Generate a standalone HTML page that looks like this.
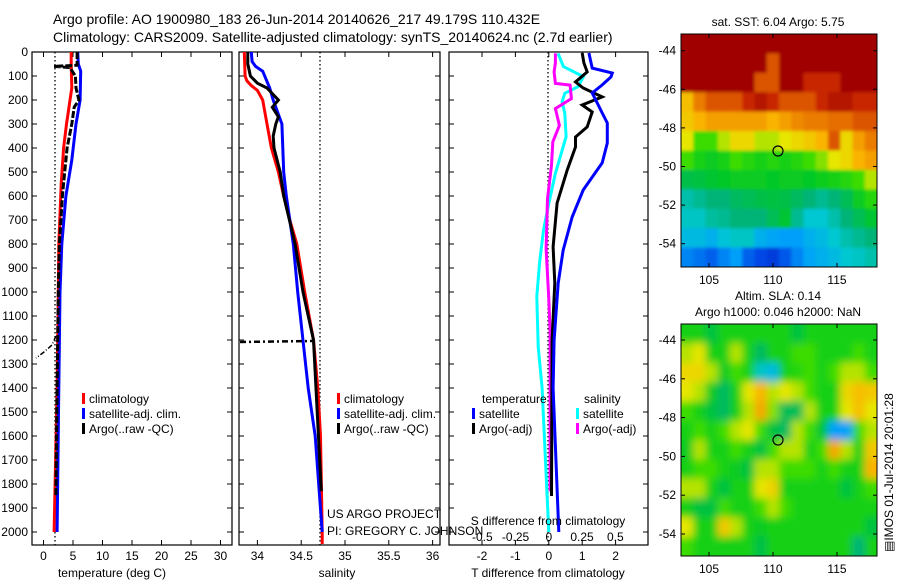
<!DOCTYPE html>
<html><head><meta charset="utf-8"><style>
html,body{margin:0;padding:0;background:#fff;}
svg{display:block;font-family:"Liberation Sans",sans-serif;}
</style></head><body>
<svg id="fig" width="900" height="580" viewBox="0 0 900 580">
<defs>
<filter id="blurS" x="-5%" y="-5%" width="110%" height="110%"><feGaussianBlur stdDeviation="1.5"/></filter>
<filter id="blurL" x="-5%" y="-5%" width="110%" height="110%"><feGaussianBlur stdDeviation="4"/></filter>
<clipPath id="clipS"><rect x="681" y="34" width="196" height="233"/></clipPath>
<clipPath id="clipL"><rect x="681" y="324" width="196" height="232"/></clipPath>
</defs>
<text x="53" y="24" font-size="14">Argo profile: AO 1900980_183 26-Jun-2014 20140626_217 49.179S 110.432E</text>
<text x="53" y="42" font-size="14">Climatology: CARS2009. Satellite-adjusted climatology: synTS_20140624.nc (2.7d earlier)</text>
</svg>
<script>
// ---- data ----
const tDepth=[0,50,100,150,200,250,300,400,550,800,1000,1400,2000];
const tClim=[4.7,4.7,4.75,4.8,4.5,4.2,3.9,3.4,3.0,2.6,2.5,2.3,1.8];
const tSatDepth=[0,50,80,200,300,450,600,800,1000,1500,2000];
const tSat=[5.8,5.9,6.3,6.2,5.5,4.8,3.8,3.1,2.8,2.55,2.3];
const tArgoDepth=[0,55,60,65,100,150,200,230,300,400,500,600,800,1000,1200,1400,1850];
const tArgo=[5.7,5.7,1.8,4.5,5.4,5.5,6.0,5.2,4.8,4.0,3.6,3.2,2.7,2.5,2.4,2.3,2.1];
const sDepth=[0,100,120,140,160,200,300,400,500,600,700,800,1000,1200,1400,1600,2000,2050];
const sClim=[33.85,33.86,33.88,33.93,34.0,34.06,34.11,34.16,34.24,34.3,34.37,34.45,34.54,34.64,34.69,34.72,34.74,34.74];
const sSatDepth=[0,40,60,80,150,200,300,400,500,600,800,1000,1400,1600,2000];
const sSat=[33.93,33.94,33.98,34.06,34.14,34.18,34.28,34.29,34.3,34.33,34.41,34.46,34.58,34.66,34.74];
const sArgoDepth=[0,50,100,130,150,200,230,270,300,350,400,500,600,800,1000,1200,1830];
const sArgo=[33.89,33.89,33.92,34.0,34.11,34.24,34.17,34.24,34.21,34.18,34.19,34.26,34.3,34.43,34.52,34.64,34.73];
const dTSatDepth=[4,67,88,104,137,171,212,254,296,379,462,575,687,825,963,1200,1400,2000];
const dTSat=[1.2,1.3,1.9,1.86,1.6,1.3,1.45,1.6,1.75,1.75,1.6,1.03,0.7,0.43,0.28,0.16,0.13,0.3];
const dTArgoDepth=[4,46,83,125,150,187,221,250,312,354,396,492,629,812,963,1200,1850];
const dTArgo=[1.0,1.05,1.15,0.8,1.03,1.6,1.0,1.3,1.15,0.8,0.8,0.55,0.25,0.13,0.18,0.1,0.08];
const dSSatDepth=[6,61,103,144,172,207,256,353,506,631,742,881,1019,1228,1400,2000];
const dSSat=[0.07,0.11,0.26,0.22,0.12,0.1,0.12,0.13,0.05,0,-0.04,-0.07,-0.09,-0.08,-0.05,0];
const dSArgoDepth=[6,46,83,131,138,194,236,306,375,472,611,819,1028,1167,1830];
const dSArgo=[0.05,0.05,0.04,0.05,0.16,0.17,0.05,0.08,0.03,0.02,-0.01,-0.02,0,0.01,0.01];
const sstGrid=[
[1,1,1,1,1,1,1,1,1,1,1,1,1,1,1,1],
[1,1,1,1,1,1,1,0.85,1,1,1,1,1,1,1,1],
[1,1,1,1,1,1,0.85,0.85,1,1,0.9,0.9,0.9,1,1,1],
[0.7,0.8,0.85,0.85,0.85,0.9,0.95,0.9,0.85,0.85,0.85,0.9,0.95,0.95,0.9,0.9],
[0.68,0.72,0.75,0.75,0.75,0.75,0.75,0.72,0.75,0.78,0.8,0.8,0.82,0.82,0.85,0.85],
[0.62,0.55,0.55,0.6,0.65,0.65,0.6,0.6,0.62,0.65,0.68,0.72,0.85,0.65,0.75,0.8],
[0.55,0.5,0.48,0.5,0.55,0.52,0.5,0.52,0.5,0.52,0.55,0.58,0.62,0.65,0.72,0.75],
[0.44,0.45,0.46,0.47,0.48,0.48,0.48,0.47,0.48,0.48,0.47,0.49,0.5,0.52,0.55,0.6],
[0.36,0.38,0.4,0.4,0.42,0.43,0.44,0.45,0.44,0.42,0.4,0.38,0.4,0.43,0.48,0.52],
[0.34,0.34,0.37,0.38,0.4,0.4,0.4,0.43,0.46,0.38,0.33,0.33,0.36,0.4,0.43,0.46],
[0.3,0.3,0.28,0.32,0.34,0.34,0.28,0.26,0.25,0.25,0.28,0.3,0.33,0.36,0.38,0.4],
[0.22,0.2,0.18,0.22,0.25,0.18,0.15,0.13,0.17,0.22,0.26,0.28,0.3,0.33,0.34,0.36]];
const slaGrid=[
[.5,.5,.45,.5,.5,.5,.5,.5,.5,.45,.5,.5,.5,.5,.5,.5],
[.6,.62,.5,.5,.6,.5,.42,.5,.5,.55,.55,.5,.5,.5,.55,.5],
[.65,.65,.6,.48,.55,.5,.34,.3,.5,.52,.55,.5,.55,.6,.6,.55],
[.62,.6,.48,.42,.5,.62,.72,.6,.62,.6,.55,.5,.5,.65,.7,.68],
[.55,.5,.45,.42,.5,.6,.74,.58,.43,.43,.6,.5,.5,.62,.7,.62],
[.5,.55,.5,.55,.6,.62,.55,.45,.42,.6,.55,.46,.25,.25,.55,.6],
[.48,.6,.5,.5,.55,.5,.45,.55,.6,.6,.5,.55,.74,.6,.5,.68],
[.5,.55,.55,.5,.48,.45,.6,.6,.55,.55,.55,.5,.55,.5,.5,.72],
[.6,.6,.5,.45,.5,.5,.62,.66,.5,.5,.5,.5,.5,.45,.5,.55],
[.5,.45,.45,.55,.5,.5,.55,.6,.55,.5,.5,.5,.5,.5,.5,.5],
[.62,.5,.5,.68,.6,.5,.48,.5,.5,.5,.5,.5,.5,.5,.5,.45],
[.55,.5,.5,.5,.5,.5,.44,.5,.5,.5,.5,.5,.5,.5,.4,.5]];
const depthTicks=[0,100,200,300,400,500,600,700,800,900,1000,1100,1200,1300,1400,1500,1600,1700,1800,1900,2000];
const tTicks=[0,5,10,15,20,25,30];
const sTicks=[34,34.5,35,35.5,36];
const dTTicks=[-2,-1,0,1,2];
const dSTicks=[-0.5,-0.25,0,0.25,0.5];
const dSTickLabels=["-0.5","-0.25","0","0.25","0.5"];
const lonTicks=[105,110,115];
const latTicks=[-44,-46,-48,-50,-52,-54];

// ---- scales ----
const yD=d=>52+d*0.24;
const xT=t=>43.5+t*5.9;
const xS=s=>257.4+(s-34)*87.6;
const xTd=t=>548.8+t*33.4;
const xSd=s=>548.8+s*133;

const NS='http://www.w3.org/2000/svg';
const svg=document.getElementById('fig');
function mk(tag,attrs,parent){const e=document.createElementNS(NS,tag);for(const k in attrs)e.setAttribute(k,attrs[k]);(parent||svg).appendChild(e);return e;}
function txt(x,y,s,size,anchor){const e=mk('text',{x:x,y:y,'font-size':size||12,'text-anchor':anchor||'middle'});e.textContent=s;return e;}

function panel(x0,x1,name){
  const r=mk('rect',{x:x0,y:52,width:x1-x0,height:493,fill:'none',stroke:'#000','stroke-width':1.2});
  
  
  depthTicks.forEach(d=>{
    const t1=mk('line',{x1:x0,x2:x0+5,y1:yD(d),y2:yD(d),stroke:'#000'});
    
    
    const t2=mk('line',{x1:x1-5,x2:x1,y1:yD(d),y2:yD(d),stroke:'#000'});
    
    
  });
}
function xticks(vals,fx,labels,y,name){
  vals.forEach((v,i)=>{
    const a=mk('line',{x1:fx(v),x2:fx(v),y1:52,y2:57,stroke:'#000'});
    
    
    const b=mk('line',{x1:fx(v),x2:fx(v),y1:540,y2:545,stroke:'#000'});
    
    
    if(labels){const l=txt(fx(v),y,labels[i],12);
    
    }
  });
}
function line(depths,vals,fx,color,name,w,dash){
  const pts=depths.map((d,i)=>fx(vals[i]).toFixed(1)+','+yD(d).toFixed(1)).join(' ');
  const p=mk('polyline',{points:pts,fill:'none',stroke:color,'stroke-width':w||3,'stroke-linejoin':'miter'});
  if(dash)p.setAttribute('stroke-dasharray',dash);
  
  
  return p;
}
function vdot(x,name){const l=mk('line',{x1:x,x2:x,y1:52,y2:545,stroke:'#000','stroke-width':1.3,'stroke-dasharray':'1.5,2.5'});
  
  }
function legend(x,y,color,label){
  const g=mk('g',{});
  
  
  mk('rect',{x:x,y:y-10,width:3,height:11,fill:color},g);
  const t=mk('text',{x:x+7,y:y,'font-size':12},g);t.textContent=label;
}

depthTicks.forEach(d=>{const l=txt(28,yD(d)+4,String(d),12,'end');
  
  });

// panel 1
panel(32,232,'temperature-panel');
xticks(tTicks,xT,tTicks.map(String),560,'temperature-axis');
vdot(55,'temperature-reference-dotted-line');
line(tDepth,tClim,xT,'#ff0000','temperature-climatology-line');
line(tSatDepth,tSat,xT,'#0000ff','temperature-satellite-line');
line(tArgoDepth,tArgo,xT,'#000','temperature-argo-line',3,'7,2');
const xl1=txt(112,577,'temperature (deg C)',12);


const blk=mk('polyline',{points:'56,336 52,345 44,352 36,358',fill:'none',stroke:'#000','stroke-width':1.5,'stroke-dasharray':'5,2,1,2'});


legend(82,403,'#ff0000','climatology');
legend(82,418,'#0000ff','satellite-adj. clim.');
legend(82,433,'#000','Argo(..raw -QC)');

// panel 2
panel(239,440,'salinity-panel');
xticks(sTicks,xS,sTicks.map(String),560,'salinity-axis');
vdot(320,'salinity-reference-dotted-line');
line(sDepth,sClim,xS,'#ff0000','salinity-climatology-line');
line(sSatDepth,sSat,xS,'#0000ff','salinity-satellite-line');
line(sArgoDepth,sArgo,xS,'#000','salinity-argo-line');
const sd=mk('line',{x1:240,x2:312,y1:342,y2:341,stroke:'#000','stroke-width':2.5,'stroke-dasharray':'6,3,2,3'});


const xl2=txt(337,577,'salinity',12);


legend(337,403,'#ff0000','climatology');
legend(337,418,'#0000ff','satellite-adj. clim.');
legend(337,433,'#000','Argo(..raw -QC)');
const pr1=txt(327,518,'US ARGO PROJECT',12,'start');


const pr2=txt(327,535,'PI: GREGORY C. JOHNSON',12,'start');



// panel 3
panel(449,648,'difference-panel');
xticks(dTTicks,xTd,dTTicks.map(String),560,'t-difference-axis');
dSTicks.forEach((v,i)=>{const l=txt(xSd(v),541,dSTickLabels[i],12);
  
  });
vdot(548,'zero-difference-dotted-line');
line(dSSatDepth,dSSat,xSd,'#00ffff','salinity-satellite-difference-line');
line(dSArgoDepth,dSArgo,xSd,'#ff00ff','salinity-argo-difference-line');
line(dTArgoDepth,dTArgo,xTd,'#000','temperature-argo-difference-line');
line(dTSatDepth,dTSat,xTd,'#0000ff','temperature-satellite-difference-line');
const st=txt(548,525,'S difference from climatology',12);


const tt=txt(548,577,'T difference from climatology',12);


const lh1=txt(482,403,'temperature',12,'start');


const lh2=txt(584,403,'salinity',12,'start');


legend(472,418,'#0000ff','satellite');
legend(472,433,'#000','Argo(-adj)');
legend(576,418,'#00ffff','satellite');
legend(576,433,'#ff00ff','Argo(-adj)');

// ---- maps ----
const cmapStops=[[0,0,0,140],[0.15,0,70,230],[0.25,0,160,250],[0.33,0,200,210],[0.40,0,180,120],[0.47,0,200,40],[0.55,60,220,0],[0.62,230,230,0],[0.72,250,180,0],[0.82,230,110,0],[0.9,200,40,0],[1,160,0,0]];
function cmap(v){
  v=Math.max(0,Math.min(1,v));
  for(let i=1;i<cmapStops.length;i++){
    const a=cmapStops[i-1],b=cmapStops[i];
    if(v<=b[0]){const f=(v-a[0])/(b[0]-a[0]);
      return 'rgb('+Math.round(a[1]+f*(b[1]-a[1]))+','+Math.round(a[2]+f*(b[2]-a[2]))+','+Math.round(a[3]+f*(b[3]-a[3]))+')';}
  }
  return 'rgb(160,0,0)';
}
function map(grid,y0,y1,latTop,latPerPx,name,cy,filt,clip){
  const x0=681,x1=877;
  const rows=grid.length,cols=grid[0].length;
  const cw=(x1-x0)/cols,ch=(y1-y0)/rows;
  const outer=mk('g',{'clip-path':'url(#'+clip+')'});
  
  
  const g=mk('g',{filter:'url(#'+filt+')'},outer);
  
  
  grid.forEach((row,i)=>row.forEach((v,j)=>{
    const ex=(j===0?-8:0),ey=(i===0?-8:0);
    const ew=(j===cols-1?8:0),eh=(i===rows-1?8:0);
    const c=mk('rect',{x:(x0+j*cw+ex).toFixed(2),y:(y0+i*ch+ey).toFixed(2),width:(cw+0.6-ex+ew).toFixed(2),height:(ch+0.6-ey+eh).toFixed(2),fill:cmap(v)},g);
    
    
  }));
  const fr=mk('rect',{x:x0,y:y0,width:x1-x0,height:y1-y0,fill:'none',stroke:'#000'});
  
  
  const lonX=lon=>709+(lon-105)*12.8;
  lonTicks.forEach(l=>{
    mk('line',{x1:lonX(l),x2:lonX(l),y1:y0,y2:y0+4,stroke:'#000'});
    mk('line',{x1:lonX(l),x2:lonX(l),y1:y1-4,y2:y1,stroke:'#000'});
    const t=txt(lonX(l),y1+17,String(l),12);
    
    
  });
  latTicks.forEach(l=>{
    const y=latTop+(-44-l)*latPerPx;
    mk('line',{x1:x0,x2:x0+4,y1:y,y2:y,stroke:'#000'});
    mk('line',{x1:x1-4,x2:x1,y1:y,y2:y,stroke:'#000'});
    const t=txt(x0-5,y+4,String(l),12,'end');
    
    
  });
  const m=mk('circle',{cx:778,cy:cy,r:5,fill:'none',stroke:'#000','stroke-width':1.2});
  
  
}
map(sstGrid,34,267,50.7,19.3,'sst-map',151,'blurS','clipS');
map(slaGrid,324,556,340,19.4,'sla-map',440,'blurL','clipL');
const mt1=txt(778,26,'sat. SST: 6.04 Argo: 5.75',12);


const mt2=txt(778,300,'Altim. SLA: 0.14',12);


const mt3=txt(778,316,'Argo h1000: 0.046 h2000: NaN',12);


const imos=mk('text',{x:0,y:0,'font-size':12,transform:'translate(893,552) rotate(-90)'});
imos.textContent='\u25A4IMOS 01-Jul-2014 20:01:28';


</script>
</body></html>
